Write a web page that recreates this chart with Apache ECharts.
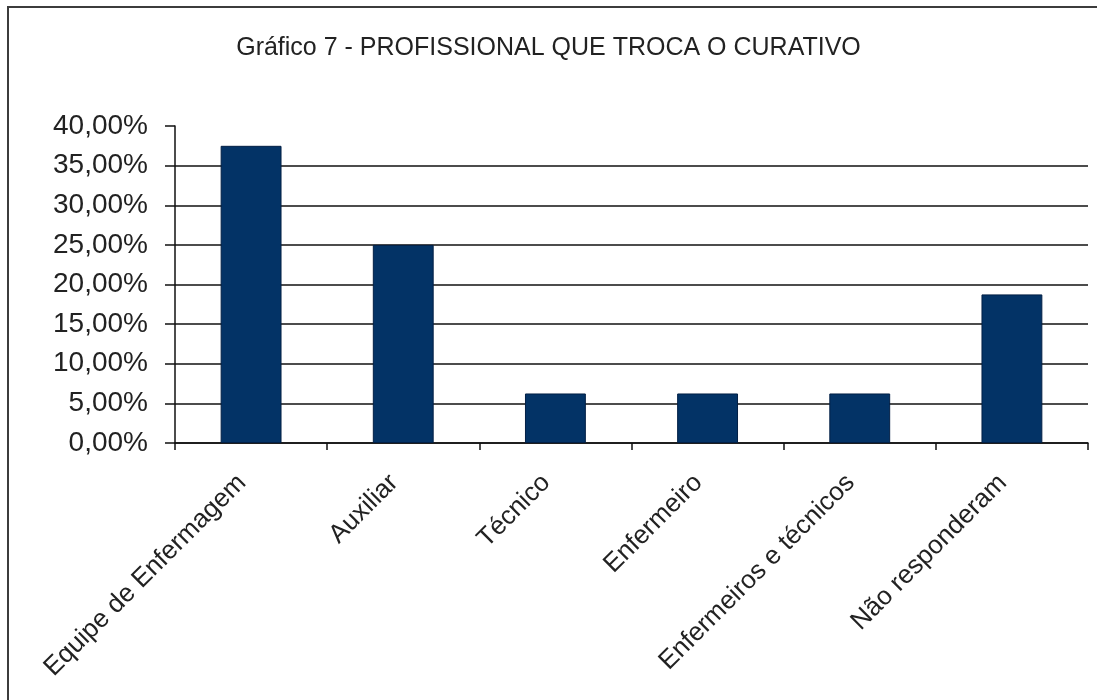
<!DOCTYPE html>
<html>
<head>
<meta charset="utf-8">
<script src="https://cdn.jsdelivr.net/npm/echarts@6/dist/echarts.min.js"></script>
<style>
  html, body { margin: 0; padding: 0; background: #ffffff; }
  #chart { width: 1097px; height: 700px; }
</style>
</head>
<body>
<div id="chart"></div>
<script>
// Profissional que troca o curativo (percentual das respostas)
const titleText = 'Gráfico 7 - PROFISSIONAL QUE TROCA O CURATIVO';
const categories = [
  'Equipe de Enfermagem',
  'Auxiliar',
  'Técnico',
  'Enfermeiro',
  'Enfermeiros e técnicos',
  'Não responderam'
];
const percentValues = [37.5, 25.0, 6.25, 6.25, 6.25, 18.75];
const yTicks = { min: 0, max: 40, step: 5 };

const font = '"Liberation Sans", Arial, sans-serif';
const textColor = '#222222';

const chart = echarts.init(document.getElementById('chart'), null, { renderer: 'canvas' });

chart.setOption({
  backgroundColor: '#ffffff',
  animation: false,
  title: {
    text: titleText,
    left: 'center',
    top: 31,
    textStyle: { fontFamily: font, fontSize: 25, fontWeight: 'normal', color: textColor }
  },
  graphic: [{
    type: 'rect',
    shape: { x: 8, y: 7, width: 1300, height: 900 },
    style: { fill: 'none', stroke: '#3c3c3c', lineWidth: 2 },
    silent: true,
    z: 100
  }],
  grid: { left: 175, right: 9, top: 126, bottom: 257, containLabel: false },
  xAxis: {
    type: 'category',
    data: categories,
    boundaryGap: true,
    axisLine: { show: true, lineStyle: { color: '#111111', width: 1.5 } },
    axisTick: { show: true, length: 7, alignWithLabel: false, lineStyle: { color: '#111111', width: 1.5 } },
    axisLabel: {
      rotate: 45,
      margin: 45,
      interval: 0,
      verticalAlign: 'bottom',
      fontFamily: font,
      fontSize: 26,
      color: textColor
    },
    splitLine: { show: false }
  },
  yAxis: {
    type: 'value',
    min: yTicks.min,
    max: yTicks.max,
    interval: yTicks.step,
    axisLine: { show: true, lineStyle: { color: '#111111', width: 1.5 } },
    axisTick: { show: true, inside: false, length: 10, lineStyle: { color: '#111111', width: 1.5 } },
    axisLabel: {
      margin: 27,
      fontFamily: font,
      fontSize: 28,
      color: textColor,
      formatter: v => v.toFixed(2).replace('.', ',') + '%'
    },
    splitLine: {
      show: true,
      showMaxLine: false,
      lineStyle: { color: '#111111', width: 1.5 }
    }
  },
  series: [{
    type: 'bar',
    data: percentValues,
    barWidth: '40%',
    itemStyle: { color: '#033366', borderColor: '#021f45', borderWidth: 1 },
    z: 3
  }]
});
</script>
</body>
</html>
